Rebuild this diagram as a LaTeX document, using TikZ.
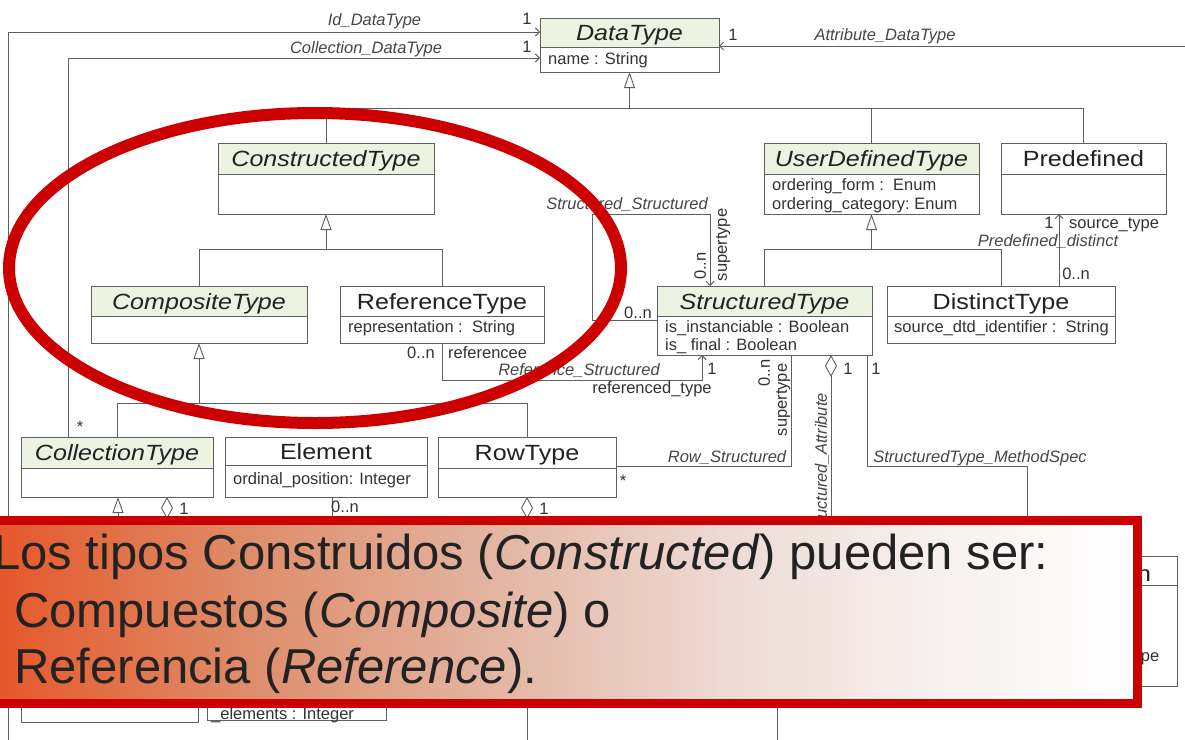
\documentclass[tikz,border=0pt]{standalone}
\usepackage{fontspec}
\setmainfont{Liberation Sans}
\newfontfamily\titlefont[FakeStretch=1.14]{Liberation Sans}
\usetikzlibrary{arrows.meta,calc}

\definecolor{umlline}{RGB}{95,95,95}
\definecolor{hdrgreen}{RGB}{236,243,225}
\definecolor{slidered}{RGB}{204,0,0}
\definecolor{assoctext}{RGB}{70,70,70}
\definecolor{inktext}{RGB}{34,34,34}
% caption fade: orange on the left, fading to white on the right
\definecolor{fadeA}{RGB}{230,86,40}
\definecolor{fadeB}{RGB}{222,140,105}
\definecolor{fadeC}{RGB}{228,185,168}
\definecolor{fadeD}{RGB}{238,218,212}
\definecolor{fadeE}{RGB}{246,240,238}
\pgfdeclarehorizontalshading{captionfade}{100bp}{%
  color(0bp)=(fadeA); color(25bp)=(fadeA); color(36bp)=(fadeB);
  color(48bp)=(fadeC); color(57bp)=(fadeD); color(66bp)=(fadeE);
  color(75bp)=(white); color(100bp)=(white)}

\tikzset{
  umlframe/.style={draw=umlline, line width=0.9pt},
  classframe/.style={umlframe, rectangle, inner sep=0pt, outer sep=0pt},
  hdr/.style={fill=hdrgreen},
  plainhdr/.style={fill=white},
  clstitle/.style={font=\titlefont\fontsize{22}{24}\selectfont, text=inktext,
                   inner sep=0pt, text height=16pt, text depth=0pt},
  clsititle/.style={clstitle, font=\titlefont\itshape\fontsize{22}{24}\selectfont},
  attr/.style={font=\fontsize{16.5}{18}\selectfont, text=black!80, inner sep=0pt,
               text height=11.5pt, text depth=0pt, anchor=west},
  role/.style={font=\fontsize{16.5}{18}\selectfont, text=black!80, inner sep=0pt,
               text height=11.5pt, text depth=0pt},
  assocname/.style={font=\itshape\fontsize{16.5}{18}\selectfont, text=assoctext,
                    inner sep=0pt, text height=11.5pt, text depth=0pt},
  link/.style={draw=umlline, line width=0.9pt},
  navarrow/.style={link, -{Straight Barb[length=4pt,width=8pt]}},
  genarrow/.style={link, -{Triangle[length=16pt,width=11pt,fill=white]}},
  aggr/.style={link, {Diamond[length=22pt,width=12pt,fill=white]}-},
  bannertext/.style={font=\fontsize{49}{56}\selectfont, text=inktext, inner sep=0pt},
}

% class box: name, x1, y1, x2, y2, header bottom, header fill, title style, title
\newcommand{\umlclass}[9]{%
  \fill[#7] (#2,#3) rectangle (#4,#6);
  \node[classframe, anchor=north west, minimum width={#4-#2}, minimum height={#5-#3}] (#1) at (#2,#3) {};
  \draw[umlframe] (#2,#6) -- (#4,#6);
  \node[#8] (#1-name) at ({(#2+#4)/2},{(#3+#6)/2}) {#9};
}

\begin{document}
\begin{tikzpicture}[x=1pt,y=-1pt]
\useasboundingbox (0,0) rectangle (1185,739);
\fill[white] (0,0) rectangle (1185,739);

% ---------------- classes ----------------
\umlclass{dt}{540}{18}{719}{72}{47}{hdr}{clsititle}{DataType}
\node[attr] (dt-a1) at (548,59) {name : String};

\umlclass{ct}{218}{143}{434}{214}{174}{hdr}{clsititle}{ConstructedType}

\umlclass{udt}{764}{143}{979}{214}{174}{hdr}{clsititle}{UserDefinedType}
\node[attr] (udt-a1) at (772,185) {ordering\_form :\ \ Enum};
\node[attr] (udt-a2) at (772,204) {ordering\_category:\ Enum};

\umlclass{pre}{1001}{143}{1166}{214}{174}{plainhdr}{clstitle}{Predefined}

\umlclass{cpt}{91}{286}{307}{343}{316}{hdr}{clsititle}{CompositeType}

\umlclass{rt}{340}{286}{544}{343}{316}{plainhdr}{clstitle}{ReferenceType}
\node[attr] (rt-a1) at (348,327) {representation :\ \ String};

\umlclass{st}{657}{286}{872}{355}{316}{hdr}{clsititle}{StructuredType}
\node[attr] (st-a1) at (665,327) {is\_instanciable : Boolean};
\node[attr] (st-a2) at (665,345) {is\_ final : Boolean};

\umlclass{dst}{887}{286}{1115}{343}{316}{plainhdr}{clstitle}{DistinctType}
\node[attr] (dst-a1) at (894,327) {source\_dtd\_identifier :\ \ String};

\umlclass{colt}{21}{437}{213}{497}{468}{hdr}{clsititle}{CollectionType}

\umlclass{el}{225}{437}{427}{497}{465}{plainhdr}{clstitle}{Element}
\node[attr] (el-a1) at (233,479) {ordinal\_position: Integer};

\umlclass{row}{438}{437}{616}{497}{468}{plainhdr}{clstitle}{RowType}

% boxes further down
\node[classframe, anchor=south west, minimum width=177, minimum height=40] (arr) at (21,722) {};
\node[classframe, anchor=south west, minimum width=179, minimum height=40] (mst) at (207,720) {};
\node[attr] (mst-a1) at (211,714) {\_elements : Integer};
\umlclass{ms}{990}{556}{1177}{686}{585}{plainhdr}{clstitle}{}
\node[clstitle] (ms-frag) at (1144,573) {n};
\node[role] (ms-frag2) at (1150,656) {pe};

% ---------------- specialisation ----------------
\coordinate (hubdt) at (629.5,108);
\draw[genarrow] (hubdt) -- (dt.south);
\draw[link] (ct.north |- hubdt) -- (pre.north |- hubdt);
\draw[link] (ct.north |- hubdt) -- (ct.north);
\draw[link] (udt.north |- hubdt) -- (udt.north);
\draw[link] (pre.north |- hubdt) -- (pre.north);

\coordinate (hubct) at (326,249);
\draw[genarrow] (hubct) -- (ct.south);
\draw[link] (cpt.north |- hubct) -- (rt.north |- hubct);
\draw[link] (cpt.north |- hubct) -- (cpt.north);
\draw[link] (rt.north |- hubct) -- (rt.north);

\coordinate (hubudt) at (871.5,249);
\draw[genarrow] (hubudt) -- (udt.south);
\draw[link] (st.north |- hubudt) -- (dst.north |- hubudt);
\draw[link] (st.north |- hubudt) -- (st.north);
\draw[link] (dst.north |- hubudt) -- (dst.north);

\coordinate (hubcpt) at (199,403);
\draw[genarrow] (hubcpt) -- (cpt.south);
\draw[link] (colt.north |- hubcpt) -- (row.north |- hubcpt);
\draw[link] (colt.north |- hubcpt) -- (colt.north);
\draw[link] (row.north |- hubcpt) -- (row.north);

% ---------------- associations ----------------
\coordinate (idturn) at (8,32);
\coordinate (idfoot) at (8,745);
\draw[navarrow] (idfoot) -- (idturn) -- (dt.west |- idturn);

\coordinate (colturn) at (68,58);
\draw[navarrow] (colturn |- colt.north) -- (colturn) -- (dt.west |- colturn);

\coordinate (attrend) at (1190,46);
\draw[navarrow] (attrend) -- (dt.east |- attrend);

\coordinate (pdx) at (1059,250);
\draw[navarrow] (pdx |- dst.north) -- (pdx |- pre.south);

\coordinate (ssa) at (592,320);
\coordinate (ssb) at (592,214);
\coordinate (ssc) at (710,214);
\draw[navarrow] (st.west |- ssa) -- (ssa) -- (ssb) -- (ssc) -- (ssc |- st.north);

\coordinate (rsa) at (442,380);
\coordinate (rsb) at (702,380);
\draw[navarrow] (rt.south) -- (rsa) -- (rsb) -- (rsb |- st.south);

\coordinate (rwa) at (791,466);
\draw[link] (row.east |- rwa) -- (rwa) -- (rwa |- st.south);

\coordinate (sat) at (831,545);
\draw[aggr] (sat |- st.south) -- (sat);

\coordinate (sma) at (867,466);
\coordinate (smb) at (1027,466);
\draw[link] (sma |- st.south) -- (sma) -- (smb) -- (smb |- ms.north);

\coordinate (ctsub) at (118,545);
\draw[genarrow] (ctsub) -- (ctsub |- colt.south);
\coordinate (cagg) at (167,545);
\draw[aggr] (cagg |- colt.south) -- (cagg);
\coordinate (elln) at (332,545);
\draw[link] (elln |- el.south) -- (elln);
\coordinate (ragg) at (527,745);
\draw[aggr] (ragg |- row.south) -- (ragg);
\coordinate (lowtop) at (777,690);
\coordinate (lowfoot) at (777,745);
\draw[link] (lowtop) -- (lowfoot);

% ---------------- labels ----------------
\node[assocname] at (374.5,20) {Id\_DataType};
\node[role] at (527,19) {1};
\node[assocname] at (366,48) {Collection\_DataType};
\node[role] at (527,47) {1};
\node[role] at (733,35) {1};
\node[assocname] at (885,35) {Attribute\_DataType};
\node[assocname] at (627,204) {Structured\_Structured};
\node[role, rotate=90] at (700,266) {0..n};
\node[role, rotate=90] at (721,245) {supertype};
\node[role] at (638,313) {0..n};
\node[role] at (421,353) {0..n};
\node[role, anchor=west] at (448,353) {referencee};
\node[assocname] at (579,370) {Reference\_Structured};
\node[role] at (712,369) {1};
\node[role] at (652,388) {referenced\_type};
\node[role, rotate=90] at (764,373) {0..n};
\node[role, rotate=90] at (781,400) {supertype};
\node[role] at (848,369) {1};
\node[role] at (876,369) {1};
\node[assocname, rotate=90, anchor=east] at (821,393) {Structured\_Attribute};
\node[assocname] at (980,457) {StructuredType\_MethodSpec};
\node[assocname] at (727,457) {Row\_Structured};
\node[role] at (623,481) {*};
\node[role] at (80,427) {*};
\node[role] at (1049,223) {1};
\node[role, anchor=west] at (1069,223) {source\_type};
\node[assocname] at (1048,241) {Predefined\_distinct};
\node[role] at (1076,274) {0..n};
\node[role] at (184,509) {1};
\node[role] at (345,507) {0..n};
\node[role] at (544,509) {1};

% ---------------- highlight ----------------
\draw[slidered, line width=12pt] (315,268) ellipse [x radius=306pt, y radius=155pt];

% ---------------- caption banner ----------------
\shade[shading=captionfade] (-10,520) rectangle (1138,704);
\draw[slidered, line width=9pt] (-10,520.5) rectangle (1137.5,703.5);
\node[bannertext, anchor=base west] (cap1) at (-7,569)
  {Los tipos Construidos (\textit{Constructed}) pueden ser:};
\node[bannertext, anchor=base west] (cap2) at (14,627)
  {Compuestos (\textit{Composite}) o};
\node[bannertext, anchor=base west] (cap3) at (14,683)
  {Referencia (\textit{Reference}).};
\end{tikzpicture}
\end{document}
